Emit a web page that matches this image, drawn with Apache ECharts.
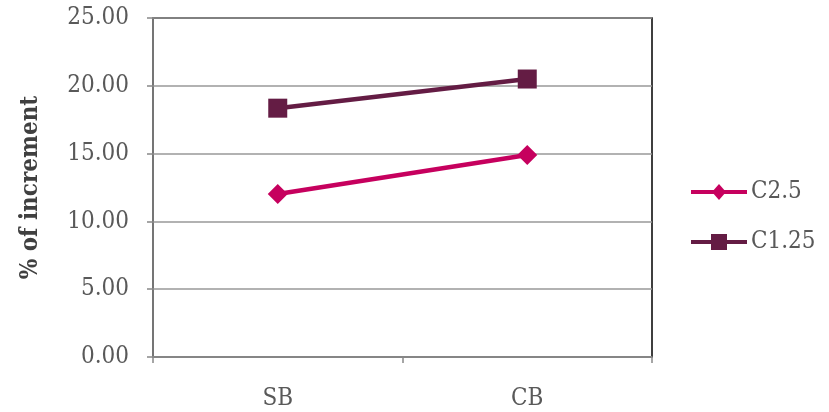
<!DOCTYPE html>
<html>
<head>
<meta charset="utf-8">
<script src="https://cdn.jsdelivr.net/npm/echarts@6/dist/echarts.min.js"></script>
<style>
  html, body { margin: 0; padding: 0; background: #fff; }
  #chart { width: 829px; height: 412px; }
</style>
</head>
<body>
<div id="chart"></div>
<script>
// Beam types along the category axis
const categories = ['SB', 'CB'];
// Percentage increment for each mix
const seriesC25 = [12.02, 14.90];
const seriesC125 = [18.35, 20.50];
// Value axis range and step
const yMin = 0;
const yMax = 25;
const yStep = 5;

const serif = '"DejaVu Serif Condensed", "DejaVu Serif", serif';
const colorC25 = '#C6005E';
const colorC125 = '#641C44';

// Legend glyphs: a thick line segment with the series marker in its middle
const iconDiamond = 'path://M0,7 L56,7 L56,11 L0,11 Z M28,1 L35,9 L28,17 L21,9 Z';
const iconSquare = 'path://M0,7 L56,7 L56,11 L0,11 Z M20,1 L36,1 L36,17 L20,17 Z';

const chart = echarts.init(document.getElementById('chart'));

chart.setOption({
  backgroundColor: '#ffffff',
  animation: false,
  grid: {
    left: 153, top: 18, right: 177, bottom: 55,
    show: true, borderColor: '#000000', borderWidth: 1.5, backgroundColor: 'transparent'
  },
  legend: {
    orient: 'vertical',
    left: 686,
    top: 175,
    itemWidth: 56,
    itemHeight: 18,
    itemGap: 26,
    textStyle: { fontFamily: serif, fontSize: 24, color: '#595959', padding: [0, 0, 0, -1] },
    data: [
      { name: 'C2.5', icon: iconDiamond, itemStyle: { color: colorC25 } },
      { name: 'C1.25', icon: iconSquare, itemStyle: { color: colorC125 } }
    ]
  },
  xAxis: {
    type: 'category',
    data: categories,
    boundaryGap: true,
    axisLine: { lineStyle: { color: '#888888', width: 1.5 } },
    axisTick: { show: true, length: 6, inside: false, lineStyle: { color: '#888888', width: 1.5 } },
    axisLabel: { fontFamily: serif, fontSize: 24, color: '#595959', margin: 30 },
    splitLine: { show: false }
  },
  yAxis: {
    type: 'value',
    min: yMin,
    max: yMax,
    interval: yStep,
    name: '% of increment',
    nameLocation: 'middle',
    nameGap: 110,
    nameTextStyle: { fontFamily: serif, fontSize: 24, fontWeight: 'bold', color: '#404040' },
    axisLine: { show: true, lineStyle: { color: '#888888', width: 1.5 } },
    axisTick: { show: true, length: 6, lineStyle: { color: '#888888', width: 1.5 } },
    axisLabel: {
      fontFamily: serif, fontSize: 24, color: '#595959', margin: 24,
      formatter: v => v.toFixed(2)
    },
    splitLine: { show: true, lineStyle: { color: '#999999', width: 1.5 } }
  },
  series: [
    {
      name: 'C2.5',
      type: 'line',
      data: seriesC25,
      symbol: 'diamond',
      symbolSize: 20,
      itemStyle: { color: colorC25 },
      lineStyle: { color: colorC25, width: 4.5 }
    },
    {
      name: 'C1.25',
      type: 'line',
      data: seriesC125,
      symbol: 'rect',
      symbolSize: 19,
      itemStyle: { color: colorC125 },
      lineStyle: { color: colorC125, width: 4.5 }
    }
  ]
});
</script>
</body>
</html>
